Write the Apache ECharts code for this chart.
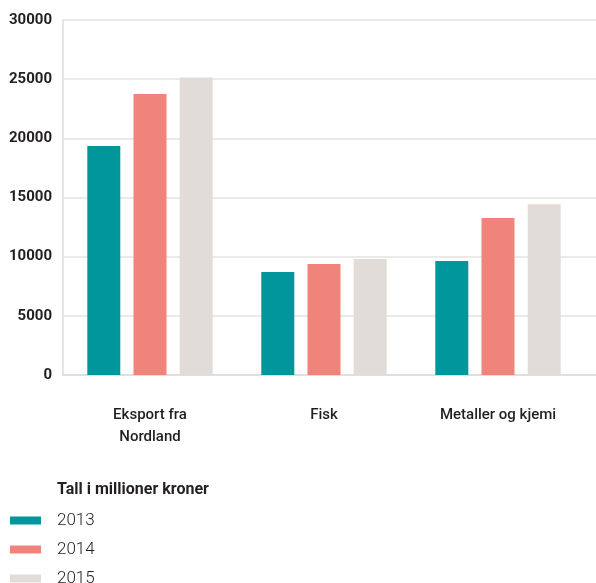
<!DOCTYPE html>
<html>
<head>
<meta charset="utf-8">
<script src="https://cdn.jsdelivr.net/npm/echarts@6/dist/echarts.min.js"></script>
<style>
html,body{margin:0;padding:0;background:#fff;}
#c{width:596px;height:583px;}
</style>
</head>
<body>
<div id="c"></div>
<script>
const categories = ['Eksport fra\nNordland', 'Fisk', 'Metaller og kjemi'];
const years = ['2013', '2014', '2015'];
const values2013 = [19350, 8700, 9630];
const values2014 = [23750, 9380, 13260];
const values2015 = [25150, 9800, 14440];
const yTicks = {min: 0, max: 30000, interval: 5000};
const colors = ['#01969b', '#f0847b', '#e2dcd9'];
const legendTitle = 'Tall i millioner kroner';

const seriesValues = [values2013, values2014, values2015];
const chart = echarts.init(document.getElementById('c'));
chart.setOption({
  animation: false,
  title: {
    text: legendTitle, left: 52, top: 477,
    textStyle: {fontFamily: 'Roboto', fontWeight: 'bold', fontSize: 16, color: '#231f20'}
  },
  legend: {
    orient: 'vertical', left: 5, top: 507, height: 200,
    icon: 'rect', itemWidth: 31, itemHeight: 8, itemGap: 12,
    data: years,
    textStyle: {fontFamily: 'Roboto', fontWeight: 300, fontSize: 17, color: '#231f20', padding: [0, 0, 0, 11]}
  },
  grid: [
    {left: 63, right: 0, top: 20, bottom: 208},
    {left: 63, right: 11, top: 20, bottom: 208}
  ],
  xAxis: [
    {gridIndex: 0, type: 'category', data: categories, axisLabel: {show: false}, axisTick: {show: false},
     axisLine: {show: true, lineStyle: {color: '#dcdcdc', width: 1.5}}},
    {gridIndex: 1, type: 'category', data: categories, axisTick: {show: false}, axisLine: {show: false},
     axisLabel: {margin: 29, fontFamily: 'Roboto', fontWeight: 500, fontSize: 15, lineHeight: 22, color: '#231f20'}}
  ],
  yAxis: [
    {gridIndex: 0, type: 'value', min: yTicks.min, max: yTicks.max, interval: yTicks.interval,
     axisLine: {show: true, lineStyle: {color: '#dcdcdc', width: 1.5}}, axisTick: {show: false},
     splitLine: {lineStyle: {color: '#e3e3e3', width: 1.5}},
     axisLabel: {margin: 11, fontFamily: 'Roboto', fontWeight: 'bold', fontSize: 15, color: '#231f20',
       formatter: v => String(v)}},
    {gridIndex: 1, type: 'value', min: yTicks.min, max: yTicks.max, interval: yTicks.interval, show: false,
     splitLine: {show: false}}
  ],
  series: years.map((y, i) => ({
    name: y, type: 'bar', xAxisIndex: 1, yAxisIndex: 1,
    data: seriesValues[i], barWidth: 33, barGap: '40%',
    itemStyle: {color: colors[i]}
  }))
});
</script>
</body>
</html>
